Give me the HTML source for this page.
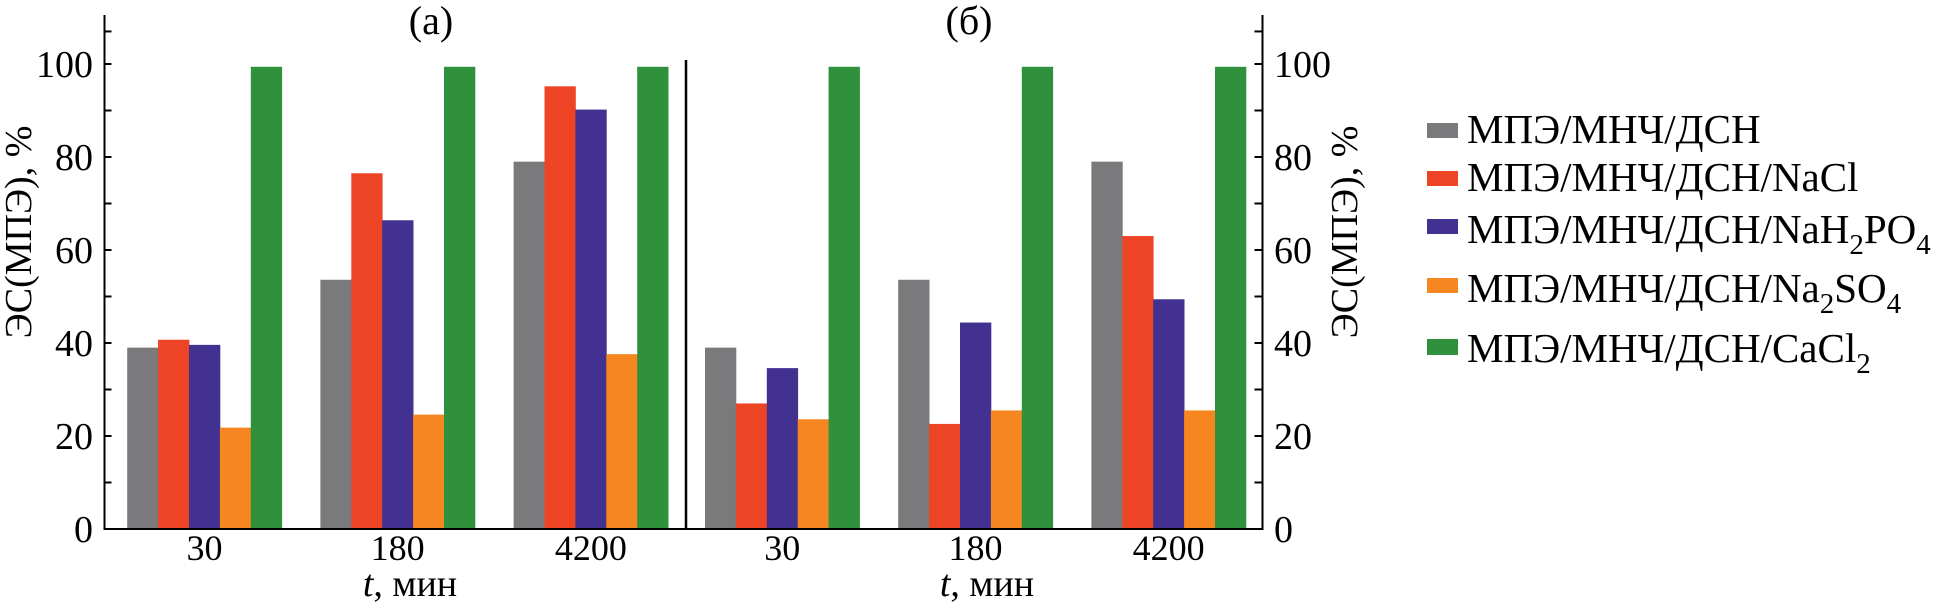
<!DOCTYPE html>
<html><head><meta charset="utf-8"><style>
html,body{margin:0;padding:0;background:#fff;}
svg, svg text{font-family:"Liberation Serif","Noto Serif CJK SC","DejaVu Serif",serif;}
svg text{fill:#000;}
</style></head><body>
<svg id="chart" width="1950" height="608" viewBox="0 0 1950 608" xmlns="http://www.w3.org/2000/svg">
<g id="marks"></g>
<g id="axes"></g>
</svg>
<script>
const categories = ["30", "180", "4200"];
const seriesNames = ["МПЭ/МНЧ/ДСН", "МПЭ/МНЧ/ДСН/NaCl", "МПЭ/МНЧ/ДСН/NaH2PO4", "МПЭ/МНЧ/ДСН/Na2SO4", "МПЭ/МНЧ/ДСН/CaCl2"];
const panelA = [
  [39, 53.6, 79],
  [40.7, 76.5, 95.2],
  [39.6, 66.4, 90.2],
  [21.8, 24.6, 37.6],
  [99.4, 99.4, 99.4]
];
const panelB = [
  [39, 53.6, 79],
  [27, 22.6, 63],
  [34.6, 44.4, 49.4],
  [23.6, 25.5, 25.5],
  [99.4, 99.4, 99.4]
];
const majorTicks = [0, 20, 40, 60, 80, 100];
const minorTicks = [10, 30, 50, 70, 90, 107];

const colors = ["#7a7a7c", "#ee4426", "#423190", "#f58620", "#2f913b"];
const NS = "http://www.w3.org/2000/svg";
const y0 = 529, y100 = 64;
function yScale(v){ return y0 + (y100 - y0) * v / 100; }
const barW = 30.9;
const groupStep = 193.2;
const panels = [{data: panelA, start: 127.2, name: "a"}, {data: panelB, start: 705, name: "b"}];
function xGroup(p, i){ return panels[p].start + i * groupStep; }
function mk(tag, attrs, parent){
  const e = document.createElementNS(NS, tag);
  for (const k in attrs) e.setAttribute(k, attrs[k]);
  parent.appendChild(e);
  return e;
}
const marks = document.getElementById("marks");
panels.forEach((pn, p) => {
  pn.data.forEach((vals, s) => {
    vals.forEach((v, i) => {
      const r = mk("rect", {x: xGroup(p, i) + s * barW, y: yScale(v), width: barW + 0.4, height: y0 - yScale(v), fill: colors[s]}, marks);
      
      
    });
  });
  categories.forEach((c, i) => {
    const t = mk("text", {x: xGroup(p, i) + 2.5 * barW, y: 560, "font-size": 36, "text-anchor": "middle"}, marks);
    t.textContent = c;
    
    
  });
});
const axes = document.getElementById("axes");
const xL = 104.5, xR = 1262.5;
let ln = mk("line", {x1: xL, y1: 15, x2: xL, y2: y0 + 1, stroke: "#000", "stroke-width": 2}, axes);


ln = mk("line", {x1: xR, y1: 15, x2: xR, y2: y0 + 1, stroke: "#000", "stroke-width": 2}, axes);


ln = mk("line", {x1: xL - 1, y1: y0, x2: xR + 1, y2: y0, stroke: "#000", "stroke-width": 2}, axes);


ln = mk("line", {x1: 686, y1: 60, x2: 686, y2: y0, stroke: "#000", "stroke-width": 2.5}, axes);


majorTicks.concat(minorTicks).forEach(v => {
  const y = yScale(v);
  let t = mk("line", {x1: xL, y1: y, x2: xL + 7, y2: y, stroke: "#000", "stroke-width": 2}, axes);
  
  
  t = mk("line", {x1: xR - 8, y1: y, x2: xR, y2: y, stroke: "#000", "stroke-width": 2}, axes);
  
  
});
majorTicks.forEach(v => {
  const y = yScale(v) + 13;
  let t = mk("text", {x: 93, y: y, "font-size": 38, "text-anchor": "end"}, axes);
  t.textContent = v;
  
  
  t = mk("text", {x: 1274, y: y, "font-size": 38, "text-anchor": "start"}, axes);
  t.textContent = v;
  
  
});
</script>
<svg style="position:absolute;left:0;top:0" width="1950" height="608" xmlns="http://www.w3.org/2000/svg">
<text x="431" y="34" font-size="40" text-anchor="middle">(а)</text>
<text x="969" y="34" font-size="40" text-anchor="middle">(б)</text>
<text x="410" y="596" font-size="38" text-anchor="middle"><tspan font-style="italic">t</tspan>, мин</text>
<text x="987" y="596" font-size="38" text-anchor="middle"><tspan font-style="italic">t</tspan>, мин</text>
<text transform="translate(31,232) rotate(-90)" font-size="38" text-anchor="middle">ЭС(МПЭ), %</text>
<text transform="translate(1357,232) rotate(-90)" font-size="38" text-anchor="middle">ЭС(МПЭ), %</text>
<g font-size="41">
<rect x="1427" y="123" width="31" height="15" fill="#7a7a7c"/>
<text x="1467" y="143">МПЭ/МНЧ/ДСН</text>
<rect x="1427" y="171" width="31" height="15" fill="#ee4426"/>
<text x="1467" y="191">МПЭ/МНЧ/ДСН/NaCl</text>
<rect x="1427" y="219" width="31" height="15" fill="#423190"/>
<text x="1467" y="243">МПЭ/МНЧ/ДСН/NaH<tspan font-size="29" dy="11">2</tspan><tspan dy="-11">PO</tspan><tspan font-size="29" dy="11">4</tspan></text>
<rect x="1427" y="278" width="31" height="15" fill="#f58620"/>
<text x="1467" y="302">МПЭ/МНЧ/ДСН/Na<tspan font-size="29" dy="11">2</tspan><tspan dy="-11">SO</tspan><tspan font-size="29" dy="11">4</tspan></text>
<rect x="1427" y="339" width="31" height="16" fill="#2f913b"/>
<text x="1467" y="362">МПЭ/МНЧ/ДСН/CaCl<tspan font-size="29" dy="11">2</tspan></text>
</g>
</svg>
</body></html>
